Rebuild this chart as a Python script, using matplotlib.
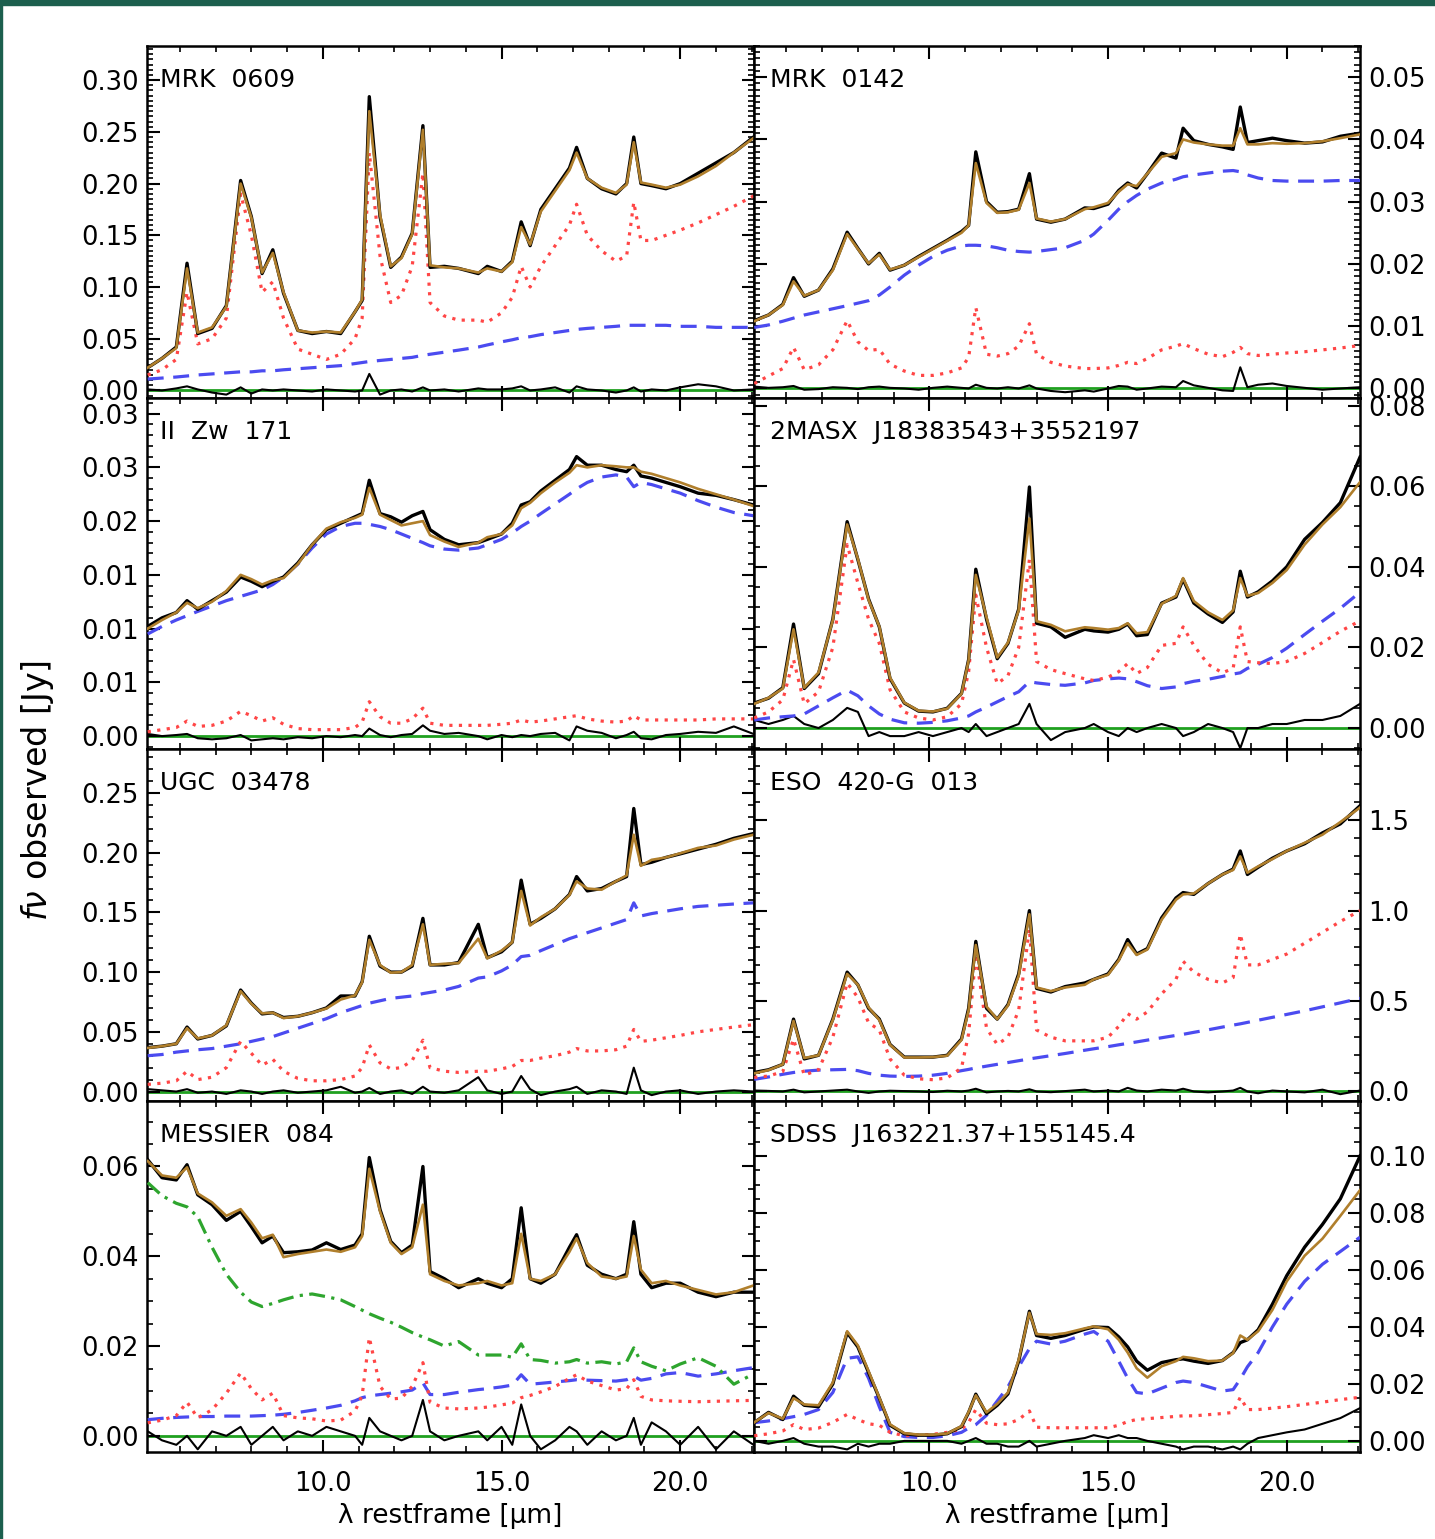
import numpy as np
import matplotlib
matplotlib.use("Agg")
import matplotlib.pyplot as plt
from matplotlib.ticker import MultipleLocator, AutoMinorLocator, FormatStrFormatter, FixedLocator, FixedFormatter
from matplotlib.patches import Rectangle

# -------------------------------------------------
# WAVELENGTH GRID (micron, rest frame)
# -------------------------------------------------

wl = [5.1, 5.5, 5.9, 6.2, 6.5, 6.9, 7.3, 7.7, 8.0, 8.3,
      8.6, 8.9, 9.3, 9.7, 10.1, 10.5, 10.9, 11.1, 11.3, 11.6,
      11.9, 12.2, 12.5, 12.8, 13.0, 13.4, 13.8, 14.35, 14.6, 15.0,
      15.3, 15.55, 15.8, 16.1, 16.5, 16.9, 17.1, 17.4, 17.8, 18.2,
      18.5, 18.7, 18.9, 19.2, 19.6, 20.0, 20.5, 21.0, 21.5, 22.05]

# -------------------------------------------------
# MRK 0609
# -------------------------------------------------

mrk0609_obs = [0.022, 0.031, 0.042, 0.123, 0.055, 0.060, 0.082, 0.203, 0.168, 0.113,
               0.136, 0.094, 0.058, 0.055, 0.057, 0.055, 0.076, 0.087, 0.284, 0.168,
               0.119, 0.129, 0.152, 0.256, 0.119, 0.120, 0.118, 0.113, 0.120, 0.115,
               0.125, 0.163, 0.140, 0.175, 0.195, 0.215, 0.235, 0.205, 0.195, 0.190,
               0.200, 0.245, 0.200, 0.198, 0.195, 0.200, 0.210, 0.220, 0.230, 0.245]
mrk0609_fit = [0.022, 0.031, 0.041, 0.118, 0.056, 0.061, 0.081, 0.200, 0.167, 0.114,
               0.133, 0.095, 0.058, 0.056, 0.057, 0.056, 0.076, 0.088, 0.270, 0.170,
               0.120, 0.128, 0.151, 0.252, 0.121, 0.119, 0.118, 0.114, 0.118, 0.115,
               0.124, 0.158, 0.141, 0.173, 0.193, 0.213, 0.230, 0.205, 0.196, 0.191,
               0.199, 0.240, 0.201, 0.199, 0.196, 0.199, 0.207, 0.217, 0.230, 0.244]
mrk0609_pah = [0.015, 0.020, 0.030, 0.095, 0.045, 0.050, 0.070, 0.190, 0.150, 0.095,
               0.105, 0.070, 0.040, 0.035, 0.030, 0.035, 0.050, 0.070, 0.230, 0.130,
               0.085, 0.092, 0.120, 0.210, 0.085, 0.072, 0.068, 0.068, 0.066, 0.075,
               0.090, 0.120, 0.100, 0.120, 0.140, 0.160, 0.180, 0.150, 0.135, 0.125,
               0.130, 0.182, 0.145, 0.145, 0.150, 0.155, 0.162, 0.170, 0.178, 0.188]
mrk0609_cont = [0.011, 0.012, 0.013, 0.014, 0.015, 0.016, 0.017, 0.018, 0.018, 0.019,
                0.019, 0.020, 0.021, 0.022, 0.023, 0.024, 0.026, 0.027, 0.028, 0.029,
                0.030, 0.031, 0.032, 0.034, 0.035, 0.037, 0.039, 0.042, 0.044, 0.047,
                0.049, 0.051, 0.052, 0.054, 0.056, 0.058, 0.059, 0.060, 0.061, 0.062,
                0.063, 0.063, 0.063, 0.063, 0.063, 0.062, 0.062, 0.061, 0.061, 0.061]
mrk0609_res = [0.001, 0.000, 0.002, 0.004, 0.001, -0.002, -0.004, 0.003, -0.003, 0.001,
               0.000, 0.001, 0.000, -0.001, 0.001, 0.000, -0.001, 0.000, 0.016, -0.004,
               0.000, 0.001, -0.001, 0.003, 0.000, 0.001, -0.001, 0.002, 0.001, 0.001,
               0.002, 0.004, 0.000, 0.001, 0.003, -0.002, 0.004, 0.001, 0.000, -0.002,
               0.000, 0.003, -0.001, 0.001, 0.000, 0.003, 0.006, 0.004, 0.000, 0.001]

# -------------------------------------------------
# MRK 0142
# -------------------------------------------------

mrk0142_obs = [0.0109, 0.0118, 0.0135, 0.0178, 0.0148, 0.0158, 0.0192, 0.0251, 0.0225, 0.0200,
               0.0217, 0.0190, 0.0198, 0.0212, 0.0225, 0.0238, 0.0252, 0.0262, 0.0380, 0.0300,
               0.0283, 0.0284, 0.0288, 0.0345, 0.0272, 0.0267, 0.0272, 0.0290, 0.0289, 0.0296,
               0.0318, 0.0330, 0.0322, 0.0345, 0.0378, 0.0370, 0.0418, 0.0398, 0.0392, 0.0388,
               0.0384, 0.0452, 0.0395, 0.0398, 0.0402, 0.0398, 0.0394, 0.0396, 0.0405, 0.0410]
mrk0142_fit = [0.0108, 0.0118, 0.0134, 0.0172, 0.0149, 0.0158, 0.0190, 0.0248, 0.0224, 0.0201,
               0.0215, 0.0191, 0.0198, 0.0211, 0.0224, 0.0237, 0.0250, 0.0262, 0.0362, 0.0298,
               0.0282, 0.0283, 0.0287, 0.0330, 0.0273, 0.0268, 0.0272, 0.0288, 0.0291, 0.0298,
               0.0316, 0.0328, 0.0325, 0.0345, 0.0372, 0.0378, 0.0400, 0.0395, 0.0392, 0.0390,
               0.0390, 0.0418, 0.0392, 0.0392, 0.0394, 0.0393, 0.0394, 0.0397, 0.0402, 0.0408]
mrk0142_pah = [0.0008, 0.0020, 0.0032, 0.0066, 0.0030, 0.0038, 0.0062, 0.0109, 0.0075, 0.0061,
               0.0063, 0.0039, 0.0028, 0.0021, 0.0021, 0.0025, 0.0033, 0.0050, 0.0130, 0.0055,
               0.0052, 0.0056, 0.0068, 0.0104, 0.0055, 0.0042, 0.0036, 0.0032, 0.0032, 0.0033,
               0.0037, 0.0042, 0.0040, 0.0048, 0.0062, 0.0068, 0.0072, 0.0064, 0.0055, 0.0051,
               0.0058, 0.0066, 0.0056, 0.0053, 0.0055, 0.0057, 0.0059, 0.0062, 0.0065, 0.0069]
mrk0142_cont = [0.0098, 0.0102, 0.0108, 0.0113, 0.0118, 0.0123, 0.0128, 0.0133, 0.0137, 0.0141,
                0.0150, 0.0163, 0.0182, 0.0198, 0.0212, 0.0222, 0.0229, 0.0230, 0.0230, 0.0229,
                0.0226, 0.0222, 0.0220, 0.0219, 0.0220, 0.0223, 0.0226, 0.0238, 0.0248, 0.0270,
                0.0288, 0.0300, 0.0310, 0.0320, 0.0330, 0.0336, 0.0340, 0.0343, 0.0346, 0.0349,
                0.0350, 0.0348, 0.0343, 0.0338, 0.0334, 0.0333, 0.0333, 0.0333, 0.0334, 0.0334]
mrk0142_res = [0.0003, 0.0001, 0.0002, 0.0004, -0.0002, -0.0001, 0.0002, 0.0001, -0.0001, 0.0002,
               0.0003, 0.0001, 0.0000, -0.0002, 0.0001, 0.0003, 0.0001, 0.0000, 0.0006, 0.0001,
               0.0000, 0.0002, 0.0000, 0.0005, 0.0000, -0.0004, -0.0006, -0.0003, -0.0005, 0.0000,
               0.0004, 0.0003, -0.0002, 0.0000, 0.0003, 0.0002, 0.0012, 0.0005, 0.0001, -0.0003,
               -0.0004, 0.0034, 0.0002, 0.0006, 0.0008, 0.0004, 0.0001, -0.0002, 0.0000, 0.0002]

# -------------------------------------------------
# II Zw 171
# -------------------------------------------------

iizw171_obs = [0.0102, 0.0110, 0.0115, 0.0126, 0.0118, 0.0126, 0.0134, 0.0148, 0.0144, 0.0139,
               0.0144, 0.0148, 0.0161, 0.0178, 0.0192, 0.0198, 0.0204, 0.0207, 0.0238, 0.0207,
               0.0204, 0.0199, 0.0205, 0.0209, 0.0192, 0.0183, 0.0178, 0.0180, 0.0183, 0.0188,
               0.0198, 0.0215, 0.0218, 0.0228, 0.0238, 0.0248, 0.0260, 0.0252, 0.0252, 0.0248,
               0.0246, 0.0252, 0.0242, 0.0240, 0.0236, 0.0232, 0.0226, 0.0224, 0.0220, 0.0215]
iizw171_fit = [0.0100, 0.0108, 0.0115, 0.0124, 0.0119, 0.0125, 0.0135, 0.0150, 0.0146, 0.0141,
               0.0145, 0.0147, 0.0160, 0.0178, 0.0193, 0.0199, 0.0203, 0.0206, 0.0231, 0.0206,
               0.0201, 0.0196, 0.0198, 0.0200, 0.0187, 0.0181, 0.0176, 0.0180, 0.0185, 0.0188,
               0.0196, 0.0212, 0.0217, 0.0226, 0.0236, 0.0245, 0.0252, 0.0250, 0.0252, 0.0251,
               0.0250, 0.0250, 0.0246, 0.0244, 0.0240, 0.0236, 0.0230, 0.0225, 0.0220, 0.0214]
iizw171_pah = [0.0004, 0.0006, 0.0008, 0.0014, 0.0009, 0.0010, 0.0014, 0.0023, 0.0019, 0.0014,
               0.0017, 0.0011, 0.0007, 0.0006, 0.0006, 0.0006, 0.0008, 0.0013, 0.0032, 0.0018,
               0.0012, 0.0012, 0.0016, 0.0026, 0.0012, 0.0010, 0.0010, 0.0010, 0.0010, 0.0011,
               0.0012, 0.0015, 0.0013, 0.0014, 0.0016, 0.0018, 0.0019, 0.0016, 0.0014, 0.0013,
               0.0014, 0.0019, 0.0015, 0.0015, 0.0015, 0.0015, 0.0015, 0.0016, 0.0016, 0.0016]
iizw171_cont = [0.0095, 0.0102, 0.0108, 0.0112, 0.0116, 0.0121, 0.0126, 0.0130, 0.0133, 0.0136,
                0.0141, 0.0148, 0.0160, 0.0175, 0.0188, 0.0195, 0.0198, 0.0198, 0.0197, 0.0195,
                0.0192, 0.0188, 0.0184, 0.0180, 0.0177, 0.0174, 0.0173, 0.0175, 0.0178, 0.0183,
                0.0189, 0.0195, 0.0200, 0.0207, 0.0216, 0.0225, 0.0230, 0.0236, 0.0241, 0.0243,
                0.0241, 0.0232, 0.0236, 0.0234, 0.0230, 0.0226, 0.0219, 0.0213, 0.0208, 0.0205]
iizw171_res = [0.0002, 0.0000, 0.0001, 0.0002, -0.0002, -0.0003, -0.0002, 0.0001, -0.0004, -0.0003,
               -0.0002, -0.0003, -0.0001, -0.0002, 0.0000, -0.0001, 0.0001, 0.0000, 0.0007, 0.0001,
               -0.0001, 0.0001, 0.0002, 0.0010, 0.0005, 0.0002, 0.0003, 0.0000, -0.0003, 0.0001,
               -0.0001, 0.0001, 0.0000, 0.0002, 0.0003, -0.0004, 0.0009, 0.0005, 0.0003, -0.0002,
               0.0001, 0.0004, -0.0002, -0.0003, 0.0001, 0.0002, 0.0004, 0.0003, 0.0009, 0.0002]
iizw171_ticks = [0.000, 0.005, 0.010, 0.015, 0.020, 0.025, 0.030]
iizw171_ticklabels = ["0.00", "0.01", "0.01", "0.01", "0.02", "0.03", "0.03"]

# -------------------------------------------------
# 2MASX J18383543+3552197
# -------------------------------------------------

j1838_obs = [0.0062, 0.0074, 0.0100, 0.0258, 0.0098, 0.0135, 0.0270, 0.0512, 0.0418, 0.0320,
             0.0251, 0.0123, 0.0062, 0.0042, 0.0040, 0.0049, 0.0086, 0.0170, 0.0394, 0.0270,
             0.0172, 0.0210, 0.0295, 0.0598, 0.0260, 0.0251, 0.0225, 0.0245, 0.0241, 0.0238,
             0.0245, 0.0258, 0.0229, 0.0232, 0.0310, 0.0325, 0.0369, 0.0310, 0.0283, 0.0262,
             0.0288, 0.0389, 0.0325, 0.0338, 0.0365, 0.0400, 0.0468, 0.0510, 0.0559, 0.0672]
j1838_fit = [0.0060, 0.0075, 0.0098, 0.0245, 0.0100, 0.0138, 0.0268, 0.0505, 0.0420, 0.0318,
             0.0252, 0.0125, 0.0063, 0.0043, 0.0041, 0.0048, 0.0085, 0.0168, 0.0380, 0.0275,
             0.0175, 0.0212, 0.0292, 0.0520, 0.0265, 0.0256, 0.0240, 0.0250, 0.0248, 0.0244,
             0.0248, 0.0260, 0.0235, 0.0238, 0.0308, 0.0328, 0.0372, 0.0315, 0.0287, 0.0268,
             0.0292, 0.0372, 0.0328, 0.0335, 0.0360, 0.0392, 0.0455, 0.0505, 0.0548, 0.0610]
j1838_pah = [0.0025, 0.0040, 0.0070, 0.0170, 0.0060, 0.0090, 0.0200, 0.0455, 0.0360, 0.0270,
             0.0210, 0.0095, 0.0040, 0.0025, 0.0020, 0.0028, 0.0060, 0.0140, 0.0330, 0.0200,
             0.0110, 0.0130, 0.0200, 0.0418, 0.0165, 0.0145, 0.0135, 0.0122, 0.0118, 0.0126,
             0.0140, 0.0160, 0.0135, 0.0150, 0.0205, 0.0210, 0.0251, 0.0205, 0.0158, 0.0137,
             0.0148, 0.0251, 0.0165, 0.0162, 0.0160, 0.0165, 0.0185, 0.0212, 0.0240, 0.0266]
j1838_cont = [0.0020, 0.0025, 0.0028, 0.0030, 0.0035, 0.0055, 0.0075, 0.0094, 0.0080, 0.0055,
              0.0035, 0.0022, 0.0013, 0.0012, 0.0014, 0.0018, 0.0025, 0.0030, 0.0040, 0.0052,
              0.0065, 0.0078, 0.0090, 0.0115, 0.0112, 0.0108, 0.0106, 0.0112, 0.0118, 0.0122,
              0.0124, 0.0122, 0.0115, 0.0105, 0.0098, 0.0102, 0.0110, 0.0116, 0.0121, 0.0128,
              0.0134, 0.0137, 0.0148, 0.0158, 0.0175, 0.0198, 0.0232, 0.0265, 0.0297, 0.0337]
j1838_res = [0.002, 0.001, 0.002, 0.003, 0.001, 0.000, 0.002, 0.005, 0.004, -0.002,
             -0.001, -0.002, -0.002, -0.001, -0.002, -0.001, 0.000, -0.001, 0.001, -0.002,
             -0.001, 0.000, 0.001, 0.006, 0.001, -0.003, -0.001, 0.000, 0.001, -0.001,
             -0.002, 0.000, -0.001, 0.000, 0.001, 0.000, -0.002, -0.001, 0.001, 0.000,
             -0.001, -0.005, 0.000, 0.000, 0.001, 0.001, 0.002, 0.002, 0.003, 0.006]

# -------------------------------------------------
# UGC 03478
# -------------------------------------------------

ugc03478_obs = [0.0368, 0.0380, 0.0400, 0.0540, 0.0440, 0.0470, 0.0550, 0.0850, 0.0740, 0.0650,
                0.0660, 0.0620, 0.0630, 0.0660, 0.0700, 0.0800, 0.0800, 0.0920, 0.1300, 0.1050,
                0.1000, 0.1000, 0.1050, 0.1450, 0.1060, 0.1060, 0.1080, 0.1400, 0.1120, 0.1170,
                0.1250, 0.1770, 0.1400, 0.1450, 0.1530, 0.1650, 0.1800, 0.1680, 0.1700, 0.1760,
                0.1800, 0.2370, 0.1900, 0.1920, 0.1960, 0.1990, 0.2030, 0.2070, 0.2120, 0.2160]
ugc03478_fit = [0.0365, 0.0380, 0.0400, 0.0530, 0.0445, 0.0470, 0.0555, 0.0840, 0.0735, 0.0655,
                0.0660, 0.0615, 0.0630, 0.0660, 0.0695, 0.0770, 0.0805, 0.0915, 0.1270, 0.1060,
                0.0995, 0.1000, 0.1060, 0.1400, 0.1060, 0.1070, 0.1075, 0.1280, 0.1115, 0.1180,
                0.1250, 0.1680, 0.1390, 0.1460, 0.1530, 0.1645, 0.1760, 0.1700, 0.1690, 0.1760,
                0.1810, 0.2150, 0.1890, 0.1940, 0.1960, 0.1995, 0.2040, 0.2060, 0.2110, 0.2150]
ugc03478_pah = [0.006, 0.007, 0.009, 0.017, 0.010, 0.012, 0.020, 0.042, 0.032, 0.022,
                0.027, 0.017, 0.011, 0.009, 0.009, 0.010, 0.013, 0.020, 0.039, 0.024,
                0.019, 0.020, 0.026, 0.043, 0.020, 0.017, 0.016, 0.017, 0.017, 0.019,
                0.021, 0.026, 0.026, 0.028, 0.030, 0.033, 0.036, 0.034, 0.034, 0.035,
                0.038, 0.052, 0.042, 0.043, 0.045, 0.047, 0.050, 0.052, 0.054, 0.056]
ugc03478_cont = [0.030, 0.031, 0.033, 0.034, 0.035, 0.036, 0.038, 0.040, 0.042, 0.044,
                 0.046, 0.049, 0.053, 0.057, 0.061, 0.066, 0.070, 0.072, 0.074, 0.076,
                 0.078, 0.079, 0.080, 0.082, 0.083, 0.085, 0.088, 0.095, 0.096, 0.101,
                 0.106, 0.113, 0.114, 0.118, 0.123, 0.128, 0.130, 0.133, 0.137, 0.141,
                 0.144, 0.158, 0.147, 0.149, 0.151, 0.153, 0.155, 0.156, 0.157, 0.158]
ugc03478_res = [0.002, 0.001, 0.000, 0.002, -0.001, 0.000, -0.002, 0.001, 0.000, -0.002,
                0.000, 0.001, -0.001, 0.000, 0.001, 0.004, -0.001, 0.000, 0.003, -0.002,
                0.000, 0.001, -0.002, 0.004, 0.000, -0.001, 0.001, 0.012, 0.001, -0.002,
                0.000, 0.013, 0.002, -0.003, 0.000, 0.002, 0.004, -0.002, 0.001, 0.000,
                -0.002, 0.020, 0.001, -0.003, 0.000, 0.001, -0.002, 0.000, 0.001, 0.000]

# -------------------------------------------------
# ESO 420-G 013
# -------------------------------------------------

eso420_obs = [0.105, 0.120, 0.150, 0.400, 0.180, 0.200, 0.400, 0.660, 0.590, 0.460,
              0.400, 0.260, 0.190, 0.190, 0.190, 0.200, 0.290, 0.460, 0.830, 0.460,
              0.400, 0.480, 0.650, 1.000, 0.570, 0.550, 0.580, 0.600, 0.620, 0.650,
              0.730, 0.840, 0.760, 0.790, 0.960, 1.070, 1.100, 1.090, 1.150, 1.200,
              1.230, 1.330, 1.200, 1.240, 1.290, 1.330, 1.370, 1.430, 1.480, 1.580]
eso420_fit = [0.100, 0.118, 0.150, 0.390, 0.185, 0.200, 0.395, 0.650, 0.590, 0.465,
              0.395, 0.258, 0.188, 0.188, 0.190, 0.198, 0.285, 0.450, 0.810, 0.470,
              0.400, 0.475, 0.640, 0.980, 0.575, 0.555, 0.575, 0.590, 0.620, 0.645,
              0.725, 0.820, 0.755, 0.785, 0.950, 1.060, 1.090, 1.095, 1.150, 1.200,
              1.225, 1.300, 1.210, 1.245, 1.285, 1.330, 1.375, 1.420, 1.490, 1.570]
eso420_pah = [0.078, 0.085, 0.110, 0.290, 0.090, 0.120, 0.300, 0.600, 0.520, 0.380,
              0.340, 0.180, 0.090, 0.070, 0.065, 0.075, 0.130, 0.320, 0.760, 0.350,
              0.260, 0.300, 0.450, 0.900, 0.340, 0.300, 0.280, 0.280, 0.280, 0.300,
              0.360, 0.430, 0.400, 0.440, 0.540, 0.620, 0.720, 0.660, 0.620, 0.600,
              0.630, 0.870, 0.700, 0.700, 0.730, 0.760, 0.820, 0.880, 0.940, 1.000]
eso420_cont = [0.067, 0.080, 0.095, 0.105, 0.112, 0.118, 0.120, 0.122, 0.115, 0.100,
               0.090, 0.085, 0.083, 0.085, 0.090, 0.100, 0.115, 0.122, 0.130, 0.140,
               0.150, 0.160, 0.170, 0.180, 0.186, 0.198, 0.210, 0.228, 0.236, 0.248,
               0.258, 0.266, 0.274, 0.284, 0.297, 0.310, 0.316, 0.327, 0.341, 0.356,
               0.367, 0.374, 0.382, 0.394, 0.410, 0.426, 0.446, 0.468, 0.490, 0.515]
eso420_res = [0.005, 0.003, 0.000, 0.010, -0.005, 0.000, 0.005, 0.010, 0.000, -0.008,
              0.000, 0.004, 0.002, 0.000, -0.003, 0.004, 0.000, 0.005, 0.015, -0.005,
              0.000, 0.003, 0.000, 0.012, 0.000, -0.004, 0.002, 0.010, 0.000, 0.005,
              0.000, 0.020, 0.005, 0.000, 0.010, 0.005, 0.015, 0.000, -0.005, 0.000,
              0.005, 0.020, 0.000, -0.010, 0.005, 0.000, -0.005, 0.010, -0.015, 0.005]

# -------------------------------------------------
# MESSIER 084
# -------------------------------------------------

m84_obs = [0.0615, 0.0575, 0.0570, 0.0604, 0.0537, 0.0515, 0.0480, 0.0500, 0.0466, 0.0430,
           0.0445, 0.0408, 0.0410, 0.0414, 0.0430, 0.0415, 0.0425, 0.0450, 0.0620, 0.0504,
           0.0433, 0.0408, 0.0425, 0.0600, 0.0366, 0.0350, 0.0330, 0.0350, 0.0340, 0.0330,
           0.0350, 0.0508, 0.0350, 0.0340, 0.0360, 0.0420, 0.0448, 0.0380, 0.0360, 0.0350,
           0.0360, 0.0477, 0.0360, 0.0330, 0.0340, 0.0340, 0.0320, 0.0310, 0.0320, 0.0320]
m84_fit = [0.0612, 0.0580, 0.0575, 0.0598, 0.0540, 0.0520, 0.0490, 0.0505, 0.0475, 0.0440,
           0.0448, 0.0398, 0.0405, 0.0410, 0.0415, 0.0410, 0.0420, 0.0445, 0.0595, 0.0500,
           0.0430, 0.0405, 0.0420, 0.0515, 0.0360, 0.0345, 0.0335, 0.0340, 0.0345, 0.0335,
           0.0340, 0.0450, 0.0350, 0.0345, 0.0360, 0.0410, 0.0440, 0.0385, 0.0355, 0.0350,
           0.0355, 0.0445, 0.0370, 0.0340, 0.0345, 0.0335, 0.0325, 0.0315, 0.0320, 0.0335]
m84_star = [0.0564, 0.0535, 0.0518, 0.0510, 0.0488, 0.0420, 0.0360, 0.0320, 0.0298, 0.0288,
            0.0295, 0.0303, 0.0312, 0.0316, 0.0310, 0.0303, 0.0288, 0.0280, 0.0272, 0.0262,
            0.0253, 0.0242, 0.0230, 0.0220, 0.0214, 0.0200, 0.0210, 0.0180, 0.0180, 0.0180,
            0.0175, 0.0205, 0.0170, 0.0168, 0.0162, 0.0165, 0.0170, 0.0162, 0.0165, 0.0160,
            0.0165, 0.0196, 0.0165, 0.0155, 0.0145, 0.0160, 0.0174, 0.0155, 0.0115, 0.0138]
m84_pah = [0.0029, 0.0035, 0.0045, 0.0075, 0.0040, 0.0058, 0.0095, 0.0140, 0.0105, 0.0080,
           0.0095, 0.0045, 0.0040, 0.0038, 0.0033, 0.0035, 0.0055, 0.0090, 0.0219, 0.0110,
           0.0082, 0.0084, 0.0110, 0.0163, 0.0075, 0.0062, 0.0060, 0.0062, 0.0064, 0.0069,
           0.0073, 0.0085, 0.0090, 0.0098, 0.0110, 0.0128, 0.0136, 0.0122, 0.0112, 0.0102,
           0.0105, 0.0125, 0.0088, 0.0080, 0.0078, 0.0077, 0.0076, 0.0077, 0.0078, 0.0079]
m84_cont = [0.0036, 0.0039, 0.0041, 0.0042, 0.0043, 0.0043, 0.0044, 0.0044, 0.0044, 0.0045,
            0.0046, 0.0048, 0.0052, 0.0057, 0.0062, 0.0068, 0.0078, 0.0085, 0.0089, 0.0092,
            0.0095, 0.0098, 0.0102, 0.0118, 0.0092, 0.0092, 0.0097, 0.0103, 0.0105, 0.0109,
            0.0113, 0.0136, 0.0115, 0.0117, 0.0120, 0.0123, 0.0125, 0.0124, 0.0123, 0.0122,
            0.0125, 0.0133, 0.0124, 0.0128, 0.0138, 0.0141, 0.0133, 0.0138, 0.0145, 0.0152]
m84_res = [0.001, -0.001, -0.002, 0.000, -0.003, 0.001, 0.000, 0.002, -0.002, 0.000,
           0.002, -0.001, 0.001, 0.000, 0.002, 0.001, 0.000, -0.002, 0.004, 0.001,
           0.000, -0.001, 0.000, 0.008, 0.001, -0.001, 0.000, 0.001, -0.001, 0.002,
           -0.002, 0.007, 0.000, -0.003, -0.001, 0.002, 0.001, -0.002, 0.001, -0.001,
           0.000, 0.004, -0.002, 0.003, 0.001, -0.002, 0.002, -0.003, 0.001, -0.002]

# -------------------------------------------------
# SDSS J163221.37+155145.4
# -------------------------------------------------

j1632_obs = [0.0064, 0.0100, 0.0075, 0.0157, 0.0125, 0.0120, 0.0200, 0.0380, 0.0330, 0.0240,
             0.0150, 0.0055, 0.0025, 0.0020, 0.0020, 0.0025, 0.0050, 0.0100, 0.0164, 0.0095,
             0.0125, 0.0165, 0.0280, 0.0455, 0.0370, 0.0360, 0.0370, 0.0392, 0.0400, 0.0398,
             0.0365, 0.0330, 0.0280, 0.0248, 0.0275, 0.0285, 0.0288, 0.0280, 0.0272, 0.0282,
             0.0310, 0.0345, 0.0355, 0.0390, 0.0480, 0.0580, 0.0680, 0.0760, 0.0850, 0.1000]
j1632_fit = [0.0065, 0.0098, 0.0078, 0.0150, 0.0128, 0.0125, 0.0205, 0.0385, 0.0335, 0.0245,
             0.0152, 0.0058, 0.0027, 0.0022, 0.0022, 0.0026, 0.0052, 0.0102, 0.0160, 0.0100,
             0.0130, 0.0170, 0.0285, 0.0450, 0.0375, 0.0372, 0.0378, 0.0395, 0.0402, 0.0392,
             0.0355, 0.0310, 0.0255, 0.0222, 0.0262, 0.0280, 0.0295, 0.0290, 0.0280, 0.0282,
             0.0308, 0.0370, 0.0355, 0.0385, 0.0460, 0.0560, 0.0650, 0.0710, 0.0790, 0.0880]
j1632_pah = [0.0018, 0.0025, 0.0035, 0.0057, 0.0040, 0.0045, 0.0065, 0.0093, 0.0075, 0.0060,
             0.0055, 0.0030, 0.0018, 0.0020, 0.0023, 0.0030, 0.0041, 0.0065, 0.0110, 0.0062,
             0.0057, 0.0060, 0.0075, 0.0105, 0.0048, 0.0046, 0.0046, 0.0046, 0.0046, 0.0046,
             0.0055, 0.0068, 0.0075, 0.0078, 0.0082, 0.0086, 0.0088, 0.0088, 0.0092, 0.0096,
             0.0100, 0.0153, 0.0110, 0.0110, 0.0115, 0.0120, 0.0128, 0.0136, 0.0145, 0.0153]
j1632_cont = [0.0064, 0.0070, 0.0078, 0.0085, 0.0093, 0.0110, 0.0170, 0.0290, 0.0295, 0.0220,
              0.0120, 0.0030, 0.0015, 0.0012, 0.0012, 0.0018, 0.0030, 0.0045, 0.0057, 0.0090,
              0.0140, 0.0190, 0.0260, 0.0324, 0.0350, 0.0340, 0.0350, 0.0375, 0.0384, 0.0350,
              0.0280, 0.0220, 0.0170, 0.0165, 0.0185, 0.0205, 0.0210, 0.0205, 0.0190, 0.0175,
              0.0180, 0.0217, 0.0260, 0.0310, 0.0400, 0.0480, 0.0560, 0.0620, 0.0665, 0.0715]
j1632_res = [0.000, -0.001, 0.000, 0.001, -0.001, -0.002, -0.002, -0.003, -0.001, -0.002,
             -0.001, -0.001, 0.000, 0.000, 0.000, 0.000, -0.001, 0.000, 0.001, -0.001,
             -0.001, -0.002, -0.002, 0.000, -0.002, -0.001, 0.000, 0.001, 0.002, 0.001,
             0.002, 0.001, 0.001, 0.000, -0.001, -0.002, -0.003, -0.002, -0.002, -0.003,
             -0.002, -0.003, -0.001, 0.001, 0.002, 0.003, 0.004, 0.006, 0.008, 0.0115]

# -------------------------------------------------
# PANEL SETUP
# -------------------------------------------------

panels = [
    dict(name="MRK  0609", obs=mrk0609_obs, fit=mrk0609_fit, pah=mrk0609_pah,
         cont=mrk0609_cont, res=mrk0609_res, star=None,
         ylim=(-0.0068, 0.333), major=0.05, minor=10, fmt="%.2f"),
    dict(name="MRK  0142", obs=mrk0142_obs, fit=mrk0142_fit, pah=mrk0142_pah,
         cont=mrk0142_cont, res=mrk0142_res, star=None,
         ylim=(-0.00145, 0.055), major=0.01, minor=10, fmt="%.2f"),
    dict(name="II  Zw  171", obs=iizw171_obs, fit=iizw171_fit, pah=iizw171_pah,
         cont=iizw171_cont, res=iizw171_res, star=None,
         ylim=(-0.0012, 0.0315), major=None, minor=5, fmt=None),
    dict(name="2MASX  J18383543+3552197", obs=j1838_obs, fit=j1838_fit, pah=j1838_pah,
         cont=j1838_cont, res=j1838_res, star=None,
         ylim=(-0.0052, 0.082), major=0.02, minor=4, fmt="%.2f"),
    dict(name="UGC  03478", obs=ugc03478_obs, fit=ugc03478_fit, pah=ugc03478_pah,
         cont=ugc03478_cont, res=ugc03478_res, star=None,
         ylim=(-0.0075, 0.2868), major=0.05, minor=5, fmt="%.2f"),
    dict(name="ESO  420-G  013", obs=eso420_obs, fit=eso420_fit, pah=eso420_pah,
         cont=eso420_cont, res=eso420_res, star=None,
         ylim=(-0.05, 1.894), major=0.5, minor=5, fmt="%.1f"),
    dict(name="MESSIER  084", obs=m84_obs, fit=m84_fit, pah=m84_pah,
         cont=m84_cont, res=m84_res, star=m84_star,
         ylim=(-0.0036, 0.0747), major=0.02, minor=4, fmt="%.2f"),
    dict(name="SDSS  J163221.37+155145.4", obs=j1632_obs, fit=j1632_fit, pah=j1632_pah,
         cont=j1632_cont, res=j1632_res, star=None,
         ylim=(-0.0039, 0.1195), major=0.02, minor=4, fmt="%.2f"),
]

# -------------------------------------------------
# PLOT
# -------------------------------------------------

W, H = 1435, 1539
fig = plt.figure(figsize=(W / 100, H / 100), dpi=100)
gs = fig.add_gridspec(4, 2, left=147 / W, right=1360 / W,
                      top=1 - 46 / H, bottom=1 - 1452 / H,
                      hspace=0, wspace=0)

tick_font = 18.5

for i, p in enumerate(panels):

    row, col = divmod(i, 2)
    ax = fig.add_subplot(gs[row, col])

    ax.axhline(0, color="#1fa01f", lw=2.0, zorder=1)
    ax.plot(wl, p["res"], color="black", lw=1.5, zorder=2)
    ax.plot(wl, p["cont"], color="#4b4bf0", lw=2.3, ls=(0, (5, 3)), zorder=3)
    ax.plot(wl, p["pah"], color="#ff4646", lw=2.3, ls=(0, (1, 2)), zorder=3)
    if p["star"] is not None:
        ax.plot(wl, p["star"], color="#2ea52e", lw=2.3,
                ls=(0, (5, 2, 1, 2)), zorder=3)
    ax.plot(wl, p["obs"], color="black", lw=2.4, zorder=4)
    ax.plot(wl, p["fit"], color="#b07f2c", lw=1.9, zorder=5)

    ax.set_xlim(5.08, 22.05)
    ax.set_ylim(*p["ylim"])

    ax.xaxis.set_major_locator(MultipleLocator(5))
    ax.xaxis.set_minor_locator(MultipleLocator(1))
    ax.xaxis.set_major_formatter(FormatStrFormatter("%.1f"))

    if p["major"] is None:
        ax.yaxis.set_major_locator(FixedLocator(iizw171_ticks))
        ax.yaxis.set_major_formatter(FixedFormatter(iizw171_ticklabels))
    else:
        ax.yaxis.set_major_locator(MultipleLocator(p["major"]))
        ax.yaxis.set_major_formatter(FormatStrFormatter(p["fmt"]))
    ax.yaxis.set_minor_locator(AutoMinorLocator(p["minor"]))

    ax.tick_params(which="both", direction="in", top=True, bottom=True,
                   left=True, right=True, labelsize=tick_font, colors="black")
    ax.tick_params(which="major", length=9, width=1.5)
    ax.tick_params(which="minor", length=4.5, width=1.2)
    ax.tick_params(axis="x", pad=14)
    ax.tick_params(axis="y", pad=6)

    if col == 1:
        ax.tick_params(axis="y", labelleft=False, labelright=True)
    if row < 3:
        ax.tick_params(axis="x", labelbottom=False)
    else:
        ax.set_xlabel("λ restframe [μm]", fontsize=19, labelpad=4)

    for s in ax.spines.values():
        s.set_linewidth(1.8)

    ax.text(0.022 if col == 0 else 0.027, 0.903, p["name"],
            transform=ax.transAxes, fontsize=18, va="center", ha="left")

fig.text(38 / W, 1 - 790 / H, r"$f\nu$ observed [Jy]", rotation=90,
         fontsize=24, ha="center", va="center")

# dark frame strips along top and left edge
fig.patches.append(Rectangle((0, 1 - 5 / H), 1, 5 / H, transform=fig.transFigure,
                             color="#1c5f4e", zorder=10))
fig.patches.append(Rectangle((0, 0), 2 / W, 1, transform=fig.transFigure,
                             color="#1c5f4e", zorder=10))

fig.savefig("out.png", dpi=100)
